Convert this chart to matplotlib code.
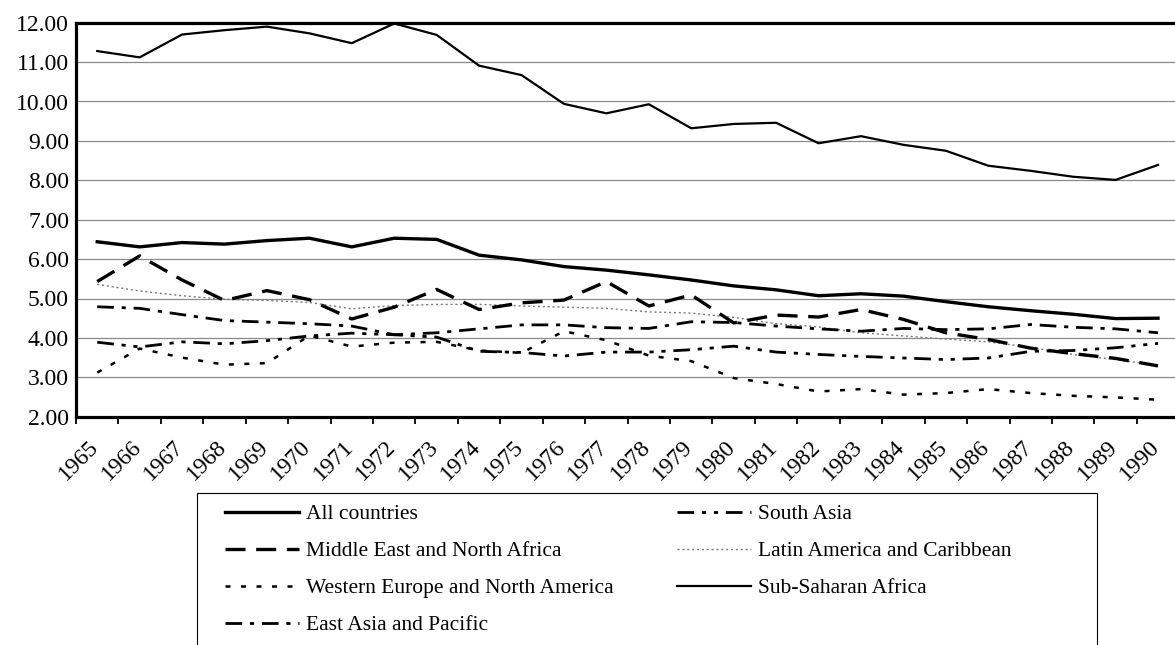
import matplotlib
matplotlib.use("Agg")
import matplotlib.pyplot as plt
from matplotlib.patches import Rectangle
from matplotlib.ticker import FixedLocator, FormatStrFormatter
from matplotlib.transforms import ScaledTranslation

years = [str(y) for y in range(1965, 1991)]

all_countries = [6.44, 6.31, 6.42, 6.38, 6.47, 6.53, 6.31, 6.53, 6.50, 6.10, 5.98, 5.81, 5.72,
                 5.60, 5.47, 5.32, 5.22, 5.07, 5.12, 5.06, 4.92, 4.79, 4.69, 4.60, 4.49, 4.50]
middle_east = [5.43, 6.08, 5.47, 4.95, 5.20, 4.97, 4.48, 4.78, 5.23, 4.72, 4.89, 4.96, 5.43,
               4.81, 5.09, 4.38, 4.58, 4.53, 4.72, 4.47, 4.13, 3.96, 3.74, 3.60, 3.48, 3.29]
western_europe = [3.12, 3.73, 3.50, 3.32, 3.36, 4.06, 3.78, 3.88, 3.90, 3.68, 3.62, 4.17, 3.94,
                  3.55, 3.41, 2.98, 2.83, 2.64, 2.70, 2.56, 2.60, 2.70, 2.60, 2.53, 2.49, 2.43]
east_asia = [4.79, 4.75, 4.59, 4.44, 4.40, 4.36, 4.30, 4.08, 4.13, 4.23, 4.33, 4.33, 4.26,
             4.24, 4.41, 4.39, 4.30, 4.23, 4.17, 4.24, 4.21, 4.23, 4.34, 4.27, 4.23, 4.13]
south_asia = [3.89, 3.77, 3.90, 3.85, 3.93, 4.05, 4.12, 4.08, 4.02, 3.66, 3.63, 3.54, 3.64,
              3.64, 3.70, 3.79, 3.64, 3.58, 3.53, 3.49, 3.45, 3.49, 3.66, 3.68, 3.75, 3.86]
latin_america = [5.36, 5.19, 5.07, 4.98, 4.95, 4.90, 4.74, 4.82, 4.85, 4.85, 4.81, 4.78, 4.75,
                 4.66, 4.63, 4.52, 4.36, 4.28, 4.13, 4.05, 3.97, 3.90, 3.76, 3.58, 3.45, 3.30]
sub_saharan = [11.28, 11.12, 11.70, 11.81, 11.90, 11.73, 11.48, 11.98, 11.69, 10.91, 10.67, 9.94, 9.70,
               9.93, 9.32, 9.43, 9.46, 8.94, 9.12, 8.90, 8.75, 8.37, 8.24, 8.09, 8.01, 8.39]

labels = ["All countries", "Middle East and North Africa", "Western Europe and North America",
          "East Asia and Pacific", "South Asia", "Latin America and Caribbean", "Sub-Saharan Africa"]

W, H = 1175, 645
fig = plt.figure(figsize=(W / 100, H / 100), dpi=100)
ax = fig.add_axes([76 / W, 1 - 416.7 / H, 1 - 76 / W, (416.7 - 22.7) / H])

serif = "Liberation Serif"
x = list(range(len(years)))

h_all, = ax.plot(x, all_countries, color="black", lw=2.4, solid_joinstyle="round", zorder=5)
h_me, = ax.plot(x, middle_east, color="black", lw=2.4, linestyle=(0, (6.0, 3.2)), zorder=5)
h_we, = ax.plot(x, western_europe, color="black", lw=1.8, linestyle=(0, (2.0, 4.2)), zorder=5)
h_ea, = ax.plot(x, east_asia, color="black", lw=2.0, linestyle=(0, (6.0, 2.8, 1.5, 2.8)), zorder=5)
h_sa, = ax.plot(x, south_asia, color="black", lw=2.0,
                linestyle=(0, (6.0, 2.8, 1.5, 2.8, 1.5, 2.8)), zorder=5)
h_la, = ax.plot(x, latin_america, color="#7a7a7a", lw=1.0, linestyle=(0, (1.5, 2.0)), zorder=4)
h_ss, = ax.plot(x, sub_saharan, color="black", lw=1.6, zorder=5)

ax.set_xlim(-0.5, 25.4)
ax.set_ylim(2, 12)

for side in ["top", "left", "bottom"]:
    ax.spines[side].set_linewidth(2.3)
    ax.spines[side].set_color("black")
ax.spines["right"].set_visible(False)

ax.yaxis.set_major_locator(FixedLocator(range(2, 13)))
ax.yaxis.set_major_formatter(FormatStrFormatter("%.2f"))
ax.tick_params(axis="y", length=0, pad=5, labelsize=17)
for t in ax.get_yticklabels():
    t.set_fontfamily(serif)

ax.set_xticks(x)
ax.set_xticklabels(years, rotation=45, ha="right", va="top", rotation_mode="anchor",
                   fontsize=17, fontfamily=serif)
ax.tick_params(axis="x", which="major", length=0, pad=14)
shift = ScaledTranslation(-9 / 100, 0, fig.dpi_scale_trans)
for t in ax.get_xticklabels():
    t.set_transform(t.get_transform() + shift)
ax.set_xticks([i - 0.5 for i in range(len(years))], minor=True)
ax.tick_params(axis="x", which="minor", length=5, width=1.3, direction="out")

ax.yaxis.grid(True, color="#8a8a8a", lw=0.9)
ax.set_axisbelow(True)

# legend
handles = [h_all, h_me, h_we, h_ea, h_sa, h_la, h_ss]
fig.legend(handles, labels, ncol=2, loc="upper left",
           bbox_to_anchor=(225 / W, 1 - 504 / H), frameon=False, borderpad=0, borderaxespad=0,
           handlelength=3.45, handletextpad=0.3, labelspacing=0.79, columnspacing=2.95,
           prop={"family": serif, "size": 15.5})
fig.patches.append(Rectangle((197 / W, 1 - 700 / H), (1097 - 197) / W, (700 - 493) / H,
                             transform=fig.transFigure, fill=False, edgecolor="black", lw=0.8))

fig.savefig("out.png", dpi=100)
